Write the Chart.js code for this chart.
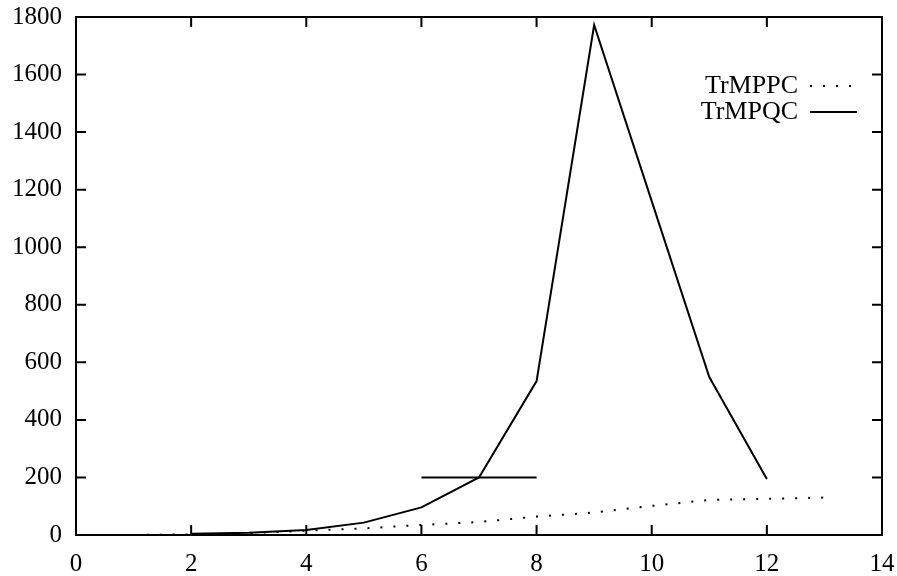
<!DOCTYPE html>
<html>
<head>
<meta charset="utf-8">
<script src="https://cdn.jsdelivr.net/npm/chart.js@4"></script>
<style>
  html, body { margin: 0; padding: 0; background: #fff; }
  #wrap { width: 897px; height: 576px; }
</style>
</head>
<body>
<div id="wrap"><canvas id="grafico"></canvas></div>
<script>
// dati
const xPPC = [1, 2, 3, 4, 5, 6, 7, 8, 9, 10, 11, 12, 13];
const yPPC = [0, 2, 6, 15, 23, 35, 45, 64, 78, 101, 122, 126, 130];
const xPQC = [2, 3, 4, 5, 6, 7, 8, 9, 10, 11, 12];
const yPQC = [4, 8, 17, 43, 96, 200, 535, 1772, 1160, 549, 195];
const xBarra = [6, 8];
const yBarra = [200, 200];
const ticksX = [0, 2, 4, 6, 8, 10, 12, 14];
const ticksY = [0, 200, 400, 600, 800, 1000, 1200, 1400, 1600, 1800];
const etichette = ['TrMPPC', 'TrMPQC'];

const punti = (xs, ys) => xs.map((x, i) => ({ x: x, y: ys[i] }));
const FONT = '"Liberation Serif", "DejaVu Serif", serif';

// cornice, tacche interne e legenda stile gnuplot
const stileGnuplot = {
    id: 'stileGnuplot',
    afterDraw(chart) {
        const { ctx, chartArea: a, scales } = chart;
        ctx.save();
        ctx.strokeStyle = '#000';
        ctx.lineWidth = 2;
        ctx.strokeRect(a.left, a.top, a.right - a.left, a.bottom - a.top);
        const t = 10;
        ctx.beginPath();
        ticksX.forEach(v => {
            const px = scales.x.getPixelForValue(v);
            ctx.moveTo(px, a.bottom); ctx.lineTo(px, a.bottom - t);
            ctx.moveTo(px, a.top); ctx.lineTo(px, a.top + t);
        });
        ticksY.forEach(v => {
            const py = scales.y.getPixelForValue(v);
            ctx.moveTo(a.left, py); ctx.lineTo(a.left + t, py);
            ctx.moveTo(a.right, py); ctx.lineTo(a.right - t, py);
        });
        ctx.stroke();

        // legenda
        ctx.font = '26px ' + FONT;
        ctx.fillStyle = '#000';
        ctx.textAlign = 'right';
        ctx.textBaseline = 'middle';
        const xt = 798, x0 = 810, x1 = 857;
        const righe = [86, 112];
        etichette.forEach((lab, i) => {
            const y = righe[i];
            ctx.fillText(lab, xt, y);
            const ds = chart.data.datasets[i];
            ctx.beginPath();
            ctx.lineWidth = ds.borderWidth;
            ctx.setLineDash(ds.borderDash || []);
            ctx.moveTo(x0, y); ctx.lineTo(x1, y);
            ctx.stroke();
        });
        ctx.restore();
    }
};

new Chart(document.getElementById('grafico'), {
    type: 'line',
    data: {
        datasets: [
            {
                label: etichette[0],
                data: punti(xPPC, yPPC),
                borderColor: '#000',
                borderWidth: 2,
                borderDash: [2, 11],
                pointRadius: 0,
                tension: 0
            },
            {
                label: etichette[1],
                data: punti(xPQC, yPQC),
                borderColor: '#000',
                borderWidth: 2,
                pointRadius: 0,
                tension: 0
            },
            {
                label: '',
                data: punti(xBarra, yBarra),
                borderColor: '#000',
                borderWidth: 2,
                pointRadius: 0,
                tension: 0
            }
        ]
    },
    options: {
        responsive: true,
        maintainAspectRatio: false,
        animation: false,
        layout: { padding: { top: 17, right: 15, left: 0, bottom: 0 } },
        plugins: { legend: { display: false }, tooltip: { enabled: false } },
        scales: {
            x: {
                type: 'linear',
                min: 0, max: 14,
                afterBuildTicks(s) { s.ticks = ticksX.map(v => ({ value: v })); },
                afterFit(s) { s.height = 41; s.paddingLeft = 0; s.paddingRight = 0; },
                grid: { display: false, drawTicks: false },
                border: { display: false },
                ticks: { color: '#000', font: { family: FONT, size: 25 }, padding: 14, maxRotation: 0,
                         callback: v => String(v) }
            },
            y: {
                type: 'linear',
                min: 0, max: 1800,
                afterBuildTicks(s) { s.ticks = ticksY.map(v => ({ value: v })); },
                afterFit(s) { s.width = 76; s.paddingTop = 0; s.paddingBottom = 0; },
                grid: { display: false, drawTicks: false },
                border: { display: false },
                ticks: { color: '#000', font: { family: FONT, size: 25 }, padding: 14,
                         callback: v => String(v) }
            }
        }
    },
    plugins: [stileGnuplot]
});
</script>
</body>
</html>
